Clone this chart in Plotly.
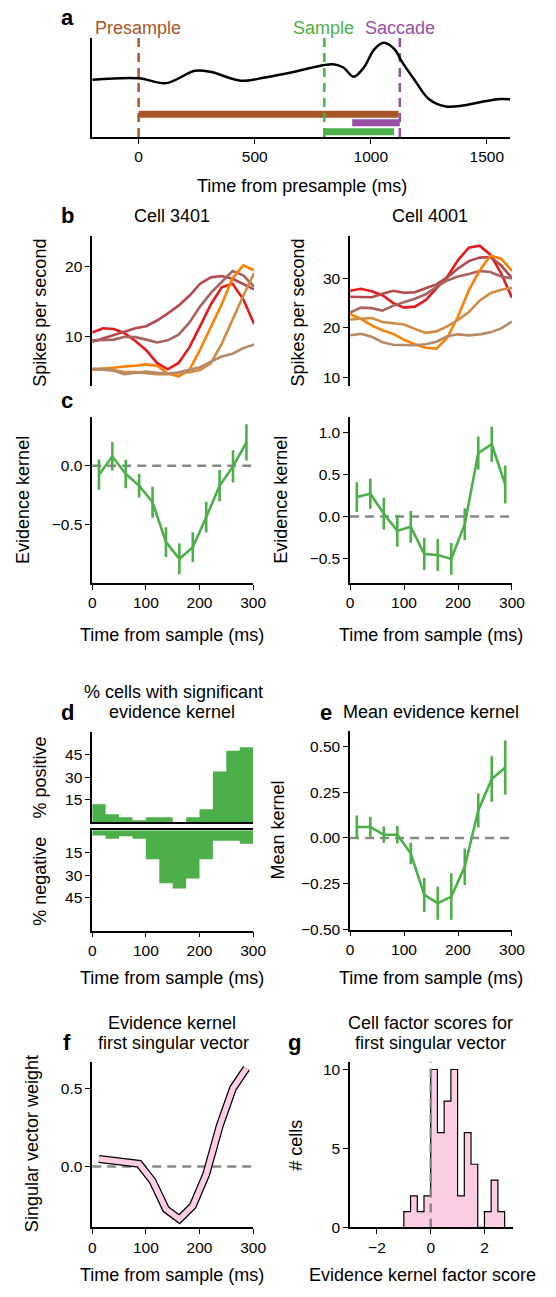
import plotly.graph_objects as go

W, H = 556, 1297
FONT = "Liberation Sans, Arial, sans-serif"
TICK = 15.5
LAB = 18

GREEN = "#4daf4a"
BROWN = "#a65628"
PURPLE = "#984ea3"
PINK = "#fccde5"
GRAY = "#888888"

# ---------------- data ----------------
# panel a: example firing-rate trace (arbitrary units)
a_time = [-200, 0, 118, 243, 309, 441, 544, 676, 794, 838, 882, 926, 970, 1015,
          1056, 1103, 1132, 1191, 1250, 1324, 1397, 1485, 1559, 1600]
a_signal = [57.7, 59.3, 54.3, 66.7, 65.7, 56.7, 60.0, 66.0, 72.3, 73.3, 70.0, 60.7,
            70.0, 88.3, 95.0, 88.3, 76.7, 56.7, 38.3, 30.7, 31.7, 35.7, 38.3, 38.0]
event_names = ["Presample", "Sample", "Saccade"]
event_times = [0, 800, 1125]
event_colors = [BROWN, GREEN, PURPLE]
epoch_start = [0, 920, 800]
epoch_end = [1120, 1125, 1100]
epoch_level = [23, 14.3, 5.3]
epoch_colors = [BROWN, PURPLE, GREEN]

# panel b: PSTHs
t_psth = [0, 20, 40, 60, 80, 100, 120, 140, 160, 180, 200, 220, 240, 260, 280, 300]
psth_colors = ["#e41a1c", "#b5484c", "#a8625f", "#ff7f00", "#cf8a45", "#b58a66"]
cell3401 = [
    [10.6, 11.2, 11.1, 10.5, 9.4, 8.1, 6.3, 5.4, 6.3, 8.5, 11.5, 14.6, 17.0, 17.5, 15.3, 11.8],
    [9.3, 9.8, 10.3, 10.8, 11.2, 11.5, 12.3, 13.3, 14.4, 15.8, 17.5, 18.4, 18.6, 18.2, 17.4, 16.7],
    [9.5, 9.5, 9.6, 10.0, 9.95, 9.6, 9.2, 9.5, 10.3, 12.0, 14.3, 16.2, 17.8, 19.3, 18.7, 17.1],
    [5.3, 5.5, 5.6, 5.8, 5.9, 6.1, 5.9, 4.8, 4.4, 5.3, 8.2, 11.5, 14.6, 18.3, 20.1, 19.4],
    [5.4, 5.5, 5.3, 5.0, 5.0, 4.8, 4.7, 4.7, 4.8, 5.0, 5.3, 6.3, 9.0, 12.5, 15.8, 19.0],
    [5.5, 5.4, 5.2, 4.7, 4.9, 5.1, 4.9, 4.8, 5.0, 5.3, 5.7, 6.5, 7.2, 7.6, 8.4, 8.9],
]
cell4001 = [
    [27.5, 27.9, 27.4, 26.6, 25.0, 24.1, 24.3, 25.6, 28.0, 30.3, 33.7, 36.2, 36.6, 34.8, 31.0, 26.1],
    [26.3, 26.3, 26.2, 26.9, 27.5, 27.1, 27.2, 28.0, 28.8, 30.2, 32.0, 33.5, 34.2, 34.3, 32.6, 30.1],
    [23.1, 24.1, 24.0, 23.5, 24.5, 25.2, 25.9, 26.8, 28.3, 29.6, 30.4, 30.9, 31.5, 31.3, 30.4, 30.0],
    [22.8, 21.8, 20.5, 19.5, 18.8, 17.6, 16.7, 16.0, 15.8, 18.0, 22.3, 27.6, 31.6, 34.6, 34.0, 31.5],
    [21.7, 21.8, 22.0, 21.2, 20.9, 20.7, 19.8, 19.0, 19.3, 20.3, 21.6, 23.2, 25.5, 27.0, 27.7, 28.1],
    [18.5, 18.8, 18.2, 17.1, 16.6, 16.5, 16.5, 16.7, 17.2, 18.3, 18.7, 18.5, 18.7, 19.1, 19.9, 21.3],
]

# time bins (25 ms bins): edges and centres
t_edges = [0, 25, 50, 75, 100, 125, 150, 175, 200, 225, 250, 275, 300]
t_bins = [12.5, 37.5, 62.5, 87.5, 112.5, 137.5, 162.5, 187.5, 212.5, 237.5, 262.5, 287.5]

# panel c: evidence kernels
kern3401 = [-0.076, 0.079, -0.070, -0.169, -0.309, -0.646, -0.787, -0.688, -0.435, -0.169, -0.006, 0.197]
kern3401_err = [0.127, 0.12, 0.12, 0.10, 0.13, 0.126, 0.13, 0.126, 0.13, 0.133, 0.137, 0.153]
kern4001 = [0.232, 0.272, 0.035, -0.169, -0.122, -0.445, -0.457, -0.504, -0.091, 0.756, 0.862, 0.382]
kern4001_err = [0.177, 0.18, 0.19, 0.19, 0.19, 0.19, 0.19, 0.19, 0.19, 0.197, 0.21, 0.226]

# panel d: % significant
pct_positive = [12, 5.3, 3.3, 1.3, 3.3, 3.3, 0, 3.3, 8.6, 33.8, 47.7, 49.9]
pct_negative = [3.5, 5.7, 4.0, 5.7, 19.4, 35.5, 38.9, 32.2, 19.4, 7.1, 7.1, 9.1]

# panel e: mean kernel
mean_kernel = [0.060, 0.060, 0.018, 0.018, -0.085, -0.311, -0.356, -0.320, -0.157, 0.150, 0.322, 0.385]
mean_kernel_err = [0.063, 0.054, 0.045, 0.048, 0.059, 0.093, 0.09, 0.127, 0.1, 0.093, 0.124, 0.147]

# panel f: first singular vector
sing_vec = [0.048, 0.038, 0.028, 0.017, -0.094, -0.276, -0.340, -0.254, -0.051, 0.259, 0.504, 0.632]

# panel g: factor score histogram
g_edges = [-1.0, -0.75, -0.5, -0.25, 0.0, 0.25, 0.5, 0.75, 1.0, 1.25, 1.5, 1.75, 2.0, 2.25, 2.5, 2.75]
g_counts = [1, 2, 1, 2, 10, 6, 8, 10, 2, 6, 4, 0, 1, 3, 1]

# ---------------- layout helpers ----------------
def xd(x0, x1):
    return [x0 / W, x1 / W]

def yd(y0, y1):
    return [1 - y1 / H, 1 - y0 / H]

fig = go.Figure()
layout = dict(width=W, height=H, margin=dict(l=0, r=0, t=0, b=0),
              paper_bgcolor="white", plot_bgcolor="white", showlegend=False,
              font=dict(family=FONT, size=TICK, color="black"))
annotations = []

base_axis = dict(showgrid=False, zeroline=False, showline=True, linecolor="black",
                 linewidth=1.5, ticks="outside", ticklen=5, tickwidth=1.3,
                 tickcolor="black", tickfont=dict(family=FONT, size=TICK, color="black"))

def add_axes(n, xdom, ydom, xcfg, ycfg):
    sfx = "" if n == 1 else str(n)
    xa = dict(base_axis); xa.update(domain=xd(*xdom), anchor=f"y{sfx}"); xa.update(xcfg)
    ya = dict(base_axis); ya.update(domain=yd(*ydom), anchor=f"x{sfx}"); ya.update(ycfg)
    layout[f"xaxis{sfx}"] = xa
    layout[f"yaxis{sfx}"] = ya
    return (f"x{sfx}", f"y{sfx}")

def text(x, y, s, size=LAB, bold=False, angle=0, color="black", xanchor="center"):
    if bold:
        s = f"<b>{s}</b>"
    annotations.append(dict(x=x / W, y=1 - y / H, xref="paper", yref="paper", text=s,
                            showarrow=False, textangle=angle, xanchor=xanchor, yanchor="middle",
                            font=dict(family=FONT, size=size, color=color)))

time_ticks = dict(range=[0, 300], tickvals=[0, 100, 200, 300])

ax_a = add_axes(1, (91, 522), (37, 137),
                dict(range=[-200, 1600], tickvals=[0, 500, 1000, 1500]),
                dict(range=[0, 100], ticks="", showticklabels=False))
ax_bl = add_axes(2, (91, 258), (237, 388), dict(range=[0, 300], visible=False),
                 dict(range=[3, 24.2], tickvals=[10, 20]))
ax_br = add_axes(3, (357, 524), (237, 388), dict(range=[0, 300], visible=False),
                 dict(range=[8.2, 38.5], tickvals=[10, 20, 30]))
ax_cl = add_axes(4, (91, 257), (419, 586), dict(time_ticks),
                 dict(range=[-0.99, 0.41], tickvals=[-0.5, 0.0], tickformat=".1f"))
ax_cr = add_axes(5, (357, 524), (419, 586), dict(time_ticks),
                 dict(range=[-0.79, 1.185], tickvals=[-0.5, 0.0, 0.5, 1.0], tickformat=".1f"))
ax_dt = add_axes(6, (91, 257), (736, 827), dict(range=[0, 300], ticks="", showticklabels=False, linewidth=2),
                 dict(range=[0, 60.2], tickvals=[15, 30, 45]))
ax_db = add_axes(7, (91, 257), (835, 936), dict(time_ticks, mirror=True),
                 dict(range=[67, 0], tickvals=[15, 30, 45]))
ax_e = add_axes(8, (357, 524), (735, 935), dict(time_ticks),
                dict(range=[-0.5, 0.585], tickvals=[-0.5, -0.25, 0, 0.25, 0.5], tickformat=".2f"))
ax_f = add_axes(9, (91, 257), (1068, 1235), dict(time_ticks),
                dict(range=[-0.393, 0.675], tickvals=[0.0, 0.5], tickformat=".1f"))
ax_g = add_axes(10, (357, 525), (1068, 1235), dict(range=[-3, 3.06], tickvals=[-2, 0, 2]),
                dict(range=[0, 10.5], tickvals=[0, 5, 10]))

def tr(trace, ax):
    trace.update(xaxis=ax[0], yaxis=ax[1], hoverinfo="skip")
    fig.add_trace(trace)

def step_outline(edges, vals):
    xs, ys = [edges[0]], [0]
    for a, b, v in zip(edges[:-1], edges[1:], vals):
        xs += [a, b]
        ys += [v, v]
    xs.append(edges[-1]); ys.append(0)
    return xs, ys

# ---- panel a
for s, e, lv, c in zip(epoch_start, epoch_end, epoch_level, epoch_colors):
    tr(go.Scatter(x=[s, e], y=[lv, lv], mode="lines", line=dict(color=c, width=7)), ax_a)
for t, c in zip(event_times, event_colors):
    tr(go.Scatter(x=[t, t], y=[0, 100], mode="lines",
                  line=dict(color=c, width=2.5, dash="9px,6px")), ax_a)
tr(go.Scatter(x=a_time, y=a_signal, mode="lines",
              line=dict(color="black", width=2.5, shape="spline", smoothing=1.0)), ax_a)

# ---- panel b
for vals, c in zip(cell3401, psth_colors):
    tr(go.Scatter(x=t_psth, y=vals, mode="lines", line=dict(color=c, width=2.6)), ax_bl)
for vals, c in zip(cell4001, psth_colors):
    tr(go.Scatter(x=t_psth, y=vals, mode="lines", line=dict(color=c, width=2.6)), ax_br)

# ---- zero lines + kernels
def zero_line(ax):
    tr(go.Scatter(x=[0, 300], y=[0, 0], mode="lines",
                  line=dict(color=GRAY, width=2.5, dash="9px,6px")), ax)

def kernel(ax, vals, err):
    tr(go.Scatter(x=t_bins, y=vals, mode="lines", line=dict(color=GREEN, width=2.6),
                  error_y=dict(type="data", array=err, visible=True, color=GREEN,
                               thickness=2.6, width=0)), ax)

zero_line(ax_cl); kernel(ax_cl, kern3401, kern3401_err)
zero_line(ax_cr); kernel(ax_cr, kern4001, kern4001_err)
zero_line(ax_e); kernel(ax_e, mean_kernel, mean_kernel_err)

# ---- panel d (step-filled histograms)
px, py = step_outline(t_edges, pct_positive)
tr(go.Scatter(x=px, y=py, mode="lines", line=dict(width=0, color=GREEN),
              fill="tozeroy", fillcolor=GREEN), ax_dt)
nx, ny = step_outline(t_edges, pct_negative)
tr(go.Scatter(x=nx, y=ny, mode="lines", line=dict(width=0, color=GREEN),
              fill="tozeroy", fillcolor=GREEN), ax_db)

# ---- panel f
zero_line(ax_f)
tr(go.Scatter(x=t_bins, y=sing_vec, mode="lines", line=dict(color="black", width=8)), ax_f)
tr(go.Scatter(x=t_bins, y=sing_vec, mode="lines", line=dict(color=PINK, width=5.5)), ax_f)

# ---- panel g
gx, gy = step_outline(g_edges, g_counts)
tr(go.Scatter(x=gx, y=gy, mode="lines", line=dict(color="black", width=1.2),
              fill="tozeroy", fillcolor=PINK), ax_g)
tr(go.Scatter(x=[0, 0], y=[0, 10.5], mode="lines",
              line=dict(color=GRAY, width=2.5, dash="9px,6px")), ax_g)

# ---------------- text ----------------
text(65, 17, "a", size=22, bold=True)
for name, t, c in zip(event_names, event_times, event_colors):
    text(138 + t * 0.24, 27, name, color=c)
text(307, 186, "Time from presample (ms)")

text(66, 216, "b", size=22, bold=True)
text(173, 217, "Cell 3401")
text(439, 217, "Cell 4001")
text(37, 314, "Spikes per second", angle=-90)
text(303, 314, "Spikes per second", angle=-90)

text(65, 402, "c", size=22, bold=True)
text(19, 502, "Evidence kernel", angle=-90)
text(285, 502, "Evidence kernel", angle=-90)
text(173, 638, "Time from sample (ms)")
text(440, 638, "Time from sample (ms)")

text(65, 716, "d", size=22, bold=True)
text(175, 696, "% cells with significant")
text(173, 716, "evidence kernel")
text(37, 782, "% positive", angle=-90)
text(37, 886, "% negative", angle=-90)
text(173, 984, "Time from sample (ms)")

text(332, 716, "e", size=22, bold=True)
text(440, 716, "Mean evidence kernel")
text(283, 835, "Mean kernel", angle=-90)
text(440, 984, "Time from sample (ms)")

text(65, 1049, "f", size=22, bold=True)
text(173, 1029, "Evidence kernel")
text(175, 1049, "first singular vector")
text(29, 1151, "Singular vector weight", angle=-90)
text(173, 1283, "Time from sample (ms)")

text(300, 1049, "g", size=22, bold=True)
text(440, 1029, "Cell factor scores for")
text(440, 1049, "first singular vector")
text(301, 1152, "# cells", angle=-90)
text(432, 1283, "Evidence kernel factor score")

layout["annotations"] = annotations
fig.update_layout(**layout)
fig.write_html("out.html")
